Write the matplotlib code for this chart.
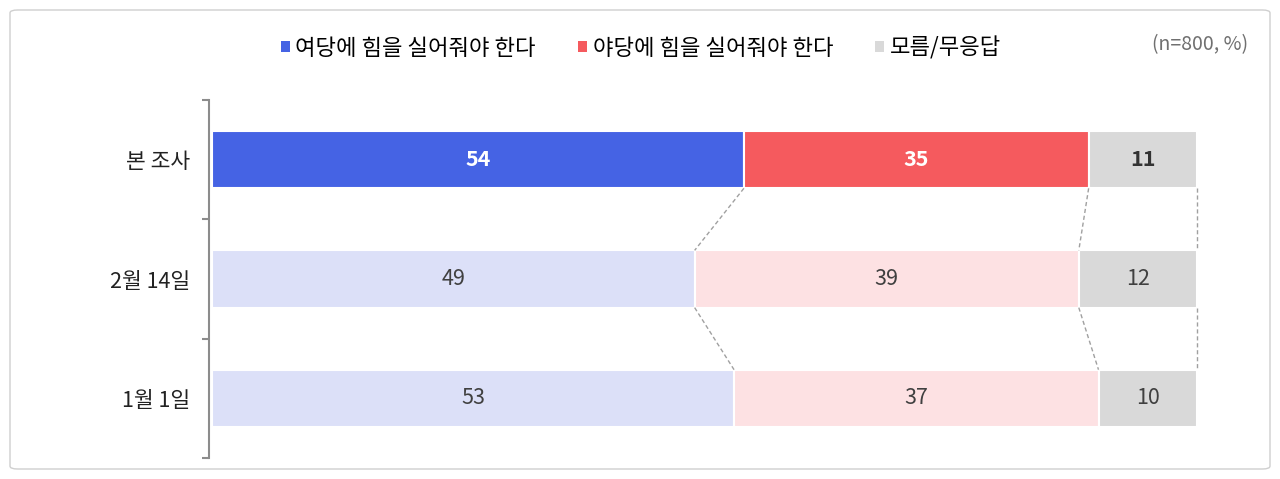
import numpy as np
import matplotlib
matplotlib.use("Agg")
import matplotlib.pyplot as plt
from matplotlib.patches import FancyBboxPatch, Patch

plt.rcParams['font.family'] = ['Noto Sans CJK KR', 'DejaVu Sans']

# Data
rows = ["본 조사", "2월 14일", "1월 1일"]
ruling = [54, 49, 53]
opposition = [35, 39, 37]
unknown = [11, 12, 10]
series_names = ["여당에 힘을 실어줘야 한다", "야당에 힘을 실어줘야 한다", "모름/무응답"]
note = "(n=800, %)"

# colours: first row strong, others faded
strong = ["#4563E4", "#F55A5E", "#D9D9D9"]
faded = ["#DCE0F8", "#FDE1E3", "#D9D9D9"]

fig = plt.figure(figsize=(12.8, 4.79), dpi=100)

# Outer frame
frame = FancyBboxPatch((10 / 1280, 10 / 479), 1260 / 1280, 459 / 479,
                       boxstyle="round,pad=0,rounding_size=0.006",
                       transform=fig.transFigure, fill=False,
                       edgecolor="#CFCFCF", linewidth=1.0)
fig.patches.append(frame)

ax = fig.add_axes([212 / 1280, 21 / 479, 985 / 1280, 358 / 479])

y = np.arange(len(rows))
bar_h = 0.48
values = np.array([ruling, opposition, unknown], dtype=float)
lefts = np.vstack([np.zeros(len(rows)), np.cumsum(values, axis=0)[:-1]])

for s in range(3):
    for i in range(len(rows)):
        col = strong[s] if i == 0 else faded[s]
        ax.barh(y[i], values[s][i], left=lefts[s][i], height=bar_h,
                color=col, edgecolor="white", linewidth=1.5)
        cx = lefts[s][i] + values[s][i] / 2
        if i == 0:
            tcol = "white" if s < 2 else "#333333"
            ax.text(cx, y[i], f"{int(values[s][i])}", ha="center", va="center",
                    fontsize=15.5, fontweight="bold", color=tcol)
        else:
            ax.text(cx, y[i], f"{int(values[s][i])}", ha="center", va="center",
                    fontsize=15.5, color="#404040")

# Dashed connectors between rows at segment boundaries
bounds = np.cumsum(values, axis=0)
for i in range(len(rows) - 1):
    for s in range(3):
        ax.plot([bounds[s][i], bounds[s][i + 1]],
                [y[i] + bar_h / 2, y[i + 1] - bar_h / 2],
                color="#A0A0A0", linestyle=(0, (3, 2)), linewidth=1.0,
                clip_on=False)

ax.set_xlim(0, 100)
ax.set_ylim(len(rows) - 0.5, -0.5)
ax.set_xticks([])
ax.set_yticks(y)
ax.set_yticklabels(rows)
ax.set_yticks(np.arange(-0.5, len(rows), 1.0), minor=True)
ax.tick_params(axis="y", which="major", length=0, pad=14,
               labelsize=15.5, labelcolor="#222222")
ax.tick_params(axis="y", which="minor", length=5, color="#8C8C8C", width=1.5)
for side in ["top", "right", "bottom"]:
    ax.spines[side].set_visible(False)
ax.spines["left"].set_color("#8C8C8C")
ax.spines["left"].set_linewidth(1.5)
ax.spines["left"].set_position(("outward", 2))

# Legend
handles = [Patch(facecolor=c, edgecolor="none") for c in strong]
fig.legend(handles, series_names, loc="center", bbox_to_anchor=(641 / 1280, 1 - 48 / 479),
           ncol=3, frameon=False, fontsize=16, handlelength=0.4, handleheight=0.4,
           handletextpad=0.25, columnspacing=1.9)

fig.text(1248 / 1280, 1 - 45 / 479, note, ha="right", va="center",
         fontsize=14, color="#707070")

fig.savefig("out.png", dpi=100)
